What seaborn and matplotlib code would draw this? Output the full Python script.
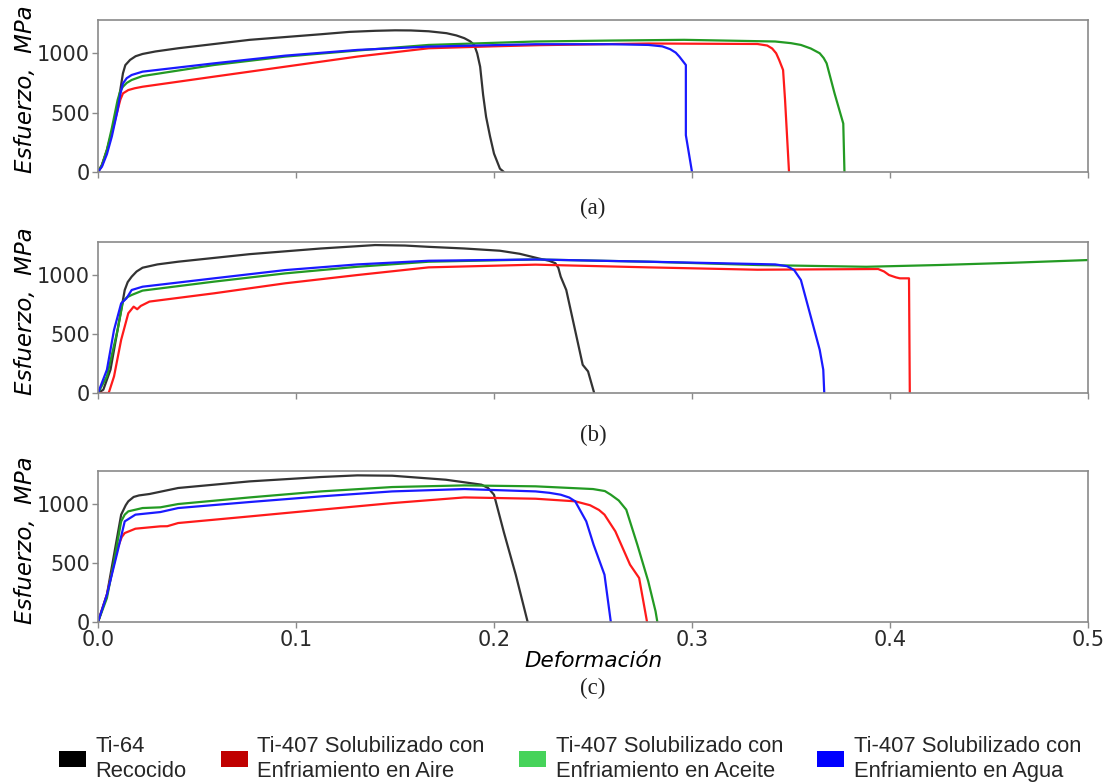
import numpy as np
import pandas as pd
import matplotlib
matplotlib.use("Agg")
import matplotlib.pyplot as plt
from matplotlib.patches import Patch
import seaborn as sns

# ---- Series names and colours ----
series = ["Ti-64 Recocido", "Ti-407 Aire", "Ti-407 Aceite", "Ti-407 Agua"]
line_colors = ["#333333", "#ff1a1a", "#239a23", "#1a1aff"]
legend_colors = ["#000000", "#c00000", "#46d35a", "#0000ff"]
legend_labels = [
    "Ti-64\nRecocido",
    "Ti-407 Solubilizado con\nEnfriamiento en Aire",
    "Ti-407 Solubilizado con\nEnfriamiento en Aceite",
    "Ti-407 Solubilizado con\nEnfriamiento en Agua",
]
panel_tags = ["(a)", "(b)", "(c)"]
x_ticks = [0.0, 0.1, 0.2, 0.3, 0.4, 0.5]
y_ticks = [0, 500, 1000]

# ---- Panel (a) ----
a_black_x = [0, 0.002, 0.0045, 0.007, 0.0099, 0.0126, 0.0138, 0.0162, 0.019, 0.0225, 0.029, 0.0405, 0.0766, 0.1126, 0.127, 0.140, 0.150, 0.158, 0.167, 0.176, 0.181, 0.185, 0.188, 0.190, 0.1915, 0.193, 0.1945, 0.196, 0.198, 0.200, 0.203, 0.205]
a_black_y = [0, 60, 183, 340, 549, 831, 900, 944, 975, 994, 1015, 1042, 1113, 1160, 1180, 1189, 1193, 1192, 1185, 1169, 1150, 1127, 1100, 1070, 1000, 887, 650, 465, 300, 155, 28, 0]
a_red_x = [0, 0.002, 0.0045, 0.007, 0.0099, 0.0113, 0.0126, 0.0153, 0.0185, 0.0225, 0.0586, 0.0946, 0.131, 0.167, 0.199, 0.2227, 0.278, 0.333, 0.338, 0.3405, 0.3425, 0.344, 0.346, 0.347, 0.349]
a_red_y = [0, 55, 180, 330, 521, 610, 662, 690, 705, 718, 803, 887, 972, 1042, 1058, 1068, 1082, 1078, 1065, 1040, 1000, 944, 859, 606, 0]
a_green_x = [0, 0.002, 0.0045, 0.007, 0.0099, 0.0112, 0.0126, 0.0145, 0.017, 0.0225, 0.0586, 0.0946, 0.131, 0.167, 0.221, 0.2595, 0.296, 0.342, 0.350, 0.355, 0.360, 0.3645, 0.3665, 0.368, 0.372, 0.3764, 0.377]
a_green_y = [0, 60, 190, 370, 606, 680, 718, 750, 775, 808, 901, 972, 1023, 1070, 1099, 1107, 1113, 1099, 1085, 1070, 1040, 1000, 960, 915, 662, 408, 0]
a_blue_x = [0, 0.002, 0.0045, 0.007, 0.0099, 0.0112, 0.0126, 0.0145, 0.017, 0.0225, 0.0586, 0.0946, 0.131, 0.167, 0.221, 0.2595, 0.278, 0.285, 0.289, 0.2918, 0.2936, 0.2969, 0.2969, 0.300]
a_blue_y = [0, 45, 150, 300, 521, 650, 746, 790, 817, 845, 915, 980, 1028, 1056, 1076, 1076, 1070, 1058, 1034, 1005, 972, 901, 310, 0]

# ---- Panel (b) ----
b_black_x = [0, 0.0027, 0.0063, 0.0099, 0.0135, 0.0150, 0.017, 0.0195, 0.0225, 0.030, 0.0405, 0.0766, 0.1126, 0.140, 0.155, 0.167, 0.185, 0.203, 0.213, 0.2227, 0.228, 0.231, 0.2325, 0.2337, 0.2365, 0.2448, 0.2475, 0.2506]
b_black_y = [0, 28, 197, 535, 873, 940, 986, 1030, 1062, 1090, 1113, 1177, 1225, 1254, 1250, 1239, 1225, 1206, 1180, 1140, 1120, 1100, 1060, 986, 873, 239, 183, 0]
b_red_x = [0, 0.0054, 0.0081, 0.0117, 0.0153, 0.018, 0.0198, 0.0216, 0.026, 0.0586, 0.0946, 0.131, 0.167, 0.221, 0.278, 0.333, 0.394, 0.397, 0.3995, 0.403, 0.405, 0.4096, 0.410]
b_red_y = [0, 0, 141, 451, 676, 732, 710, 738, 775, 845, 930, 1000, 1065, 1088, 1065, 1045, 1051, 1030, 1000, 980, 972, 972, 0]
b_green_x = [0, 0.0045, 0.0099, 0.0126, 0.0145, 0.017, 0.0225, 0.0586, 0.0946, 0.131, 0.167, 0.221, 0.278, 0.333, 0.388, 0.425, 0.462, 0.5]
b_green_y = [0, 141, 535, 775, 810, 831, 868, 944, 1014, 1070, 1113, 1132, 1113, 1085, 1070, 1085, 1104, 1127]
b_blue_x = [0, 0.0045, 0.0081, 0.0117, 0.0144, 0.017, 0.0225, 0.0586, 0.0946, 0.131, 0.167, 0.221, 0.278, 0.342, 0.348, 0.3516, 0.355, 0.3645, 0.3663, 0.3668]
b_blue_y = [0, 197, 535, 760, 803, 873, 901, 972, 1042, 1090, 1121, 1132, 1113, 1090, 1075, 1042, 958, 366, 197, 0]

# ---- Panel (c) ----
c_black_x = [0, 0.0045, 0.0081, 0.0117, 0.014, 0.0153, 0.018, 0.0207, 0.026, 0.0405, 0.0766, 0.1126, 0.131, 0.1486, 0.1757, 0.1937, 0.197, 0.200, 0.205, 0.211, 0.217]
c_black_y = [0, 232, 571, 910, 990, 1023, 1060, 1073, 1085, 1136, 1192, 1229, 1243, 1240, 1206, 1164, 1136, 1079, 760, 400, 0]
c_red_x = [0, 0.0045, 0.0099, 0.012, 0.0135, 0.0189, 0.0315, 0.035, 0.0405, 0.0586, 0.0766, 0.1126, 0.1486, 0.185, 0.221, 0.241, 0.2485, 0.253, 0.2558, 0.2613, 0.2687, 0.2733, 0.2773]
c_red_y = [0, 232, 627, 720, 754, 791, 811, 812, 839, 867, 895, 952, 1008, 1056, 1045, 1023, 990, 950, 910, 768, 486, 373, 0]
c_green_x = [0, 0.0045, 0.0081, 0.0117, 0.0135, 0.0153, 0.0225, 0.0315, 0.0405, 0.0766, 0.1126, 0.1486, 0.185, 0.221, 0.250, 0.256, 0.259, 0.263, 0.2668, 0.2724, 0.2779, 0.2816, 0.2825]
c_green_y = [0, 203, 514, 853, 910, 938, 966, 972, 1000, 1056, 1107, 1144, 1158, 1150, 1127, 1110, 1079, 1030, 952, 655, 345, 90, 0]
c_blue_x = [0, 0.0045, 0.0099, 0.0135, 0.0189, 0.0315, 0.0405, 0.0766, 0.1126, 0.1486, 0.185, 0.221, 0.228, 0.2337, 0.238, 0.241, 0.2466, 0.2503, 0.2558, 0.259]
c_blue_y = [0, 232, 599, 853, 910, 932, 966, 1017, 1065, 1107, 1127, 1107, 1095, 1079, 1055, 1023, 853, 655, 401, 0]

panels = [
    [(a_black_x, a_black_y), (a_red_x, a_red_y), (a_green_x, a_green_y), (a_blue_x, a_blue_y)],
    [(b_black_x, b_black_y), (b_red_x, b_red_y), (b_green_x, b_green_y), (b_blue_x, b_blue_y)],
    [(c_black_x, c_black_y), (c_red_x, c_red_y), (c_green_x, c_green_y), (c_blue_x, c_blue_y)],
]


def to_frame(curves):
    parts = []
    for name, (xs, ys) in zip(series, curves):
        parts.append(pd.DataFrame({"strain": xs, "stress": ys, "serie": name}))
    return pd.concat(parts, ignore_index=True)


sns.set_theme(style="white")
plt.rcParams["font.family"] = ["DejaVu Sans"]

fig = plt.figure(figsize=(11.10, 7.84), dpi=100)
W, H = 1110, 784
left, right = 98, 1088
boxes = [(20, 172), (242, 393), (471, 622)]
tag_y = [208, 435, 688]
spine_color = "#8a8a8a"
text_color = "#2a2a2a"

palette = dict(zip(series, line_colors))

for i, ((top, bottom), curves) in enumerate(zip(boxes, panels)):
    ax = fig.add_axes([left / W, 1 - bottom / H, (right - left) / W, (bottom - top) / H])
    df = to_frame(curves)
    sns.lineplot(data=df, x="strain", y="stress", hue="serie", palette=palette,
                 sort=False, estimator=None, legend=False, linewidth=1.6, ax=ax)
    ax.set_xlim(0, 0.5)
    ax.set_ylim(0, 1280)
    ax.set_xticks(x_ticks)
    ax.set_yticks(y_ticks)
    for sp in ax.spines.values():
        sp.set_color(spine_color)
        sp.set_linewidth(1.2)
    ax.tick_params(axis="both", which="both", left=True, bottom=True, length=4,
                   width=1, color=spine_color, labelsize=15, labelcolor=text_color, pad=2)
    ax.set_ylabel("Esfuerzo,  MPa", fontsize=16.5, fontstyle="italic", color="black")
    ax.yaxis.set_label_coords(-0.062, 0.545)
    if i < 2:
        ax.set_xticklabels([])
        ax.set_xlabel("")
    else:
        ax.set_xticklabels([f"{t:.1f}" for t in x_ticks])
        ax.set_xlabel("Deformación", fontsize=15.5, fontstyle="italic", color="black")
        ax.xaxis.set_label_coords(0.5, -0.195)
    fig.text(593 / W, 1 - tag_y[i] / H, panel_tags[i], ha="center", va="center",
             fontsize=16.5, family="Liberation Serif", color="#222222")

handles = [Patch(facecolor=c, edgecolor="none") for c in legend_colors]
leg = fig.legend(handles, legend_labels, loc="center", bbox_to_anchor=(570 / W, 1 - 759 / H),
                 ncol=4, frameon=False, prop={"family": "Liberation Sans", "size": 15.8},
                 handlelength=1.22, handleheight=0.75, handletextpad=0.45, columnspacing=1.55,
                 borderpad=0, borderaxespad=0)
for t in leg.get_texts():
    t.set_linespacing(1.3)

fig.savefig("out.png", dpi=100, facecolor="white")
